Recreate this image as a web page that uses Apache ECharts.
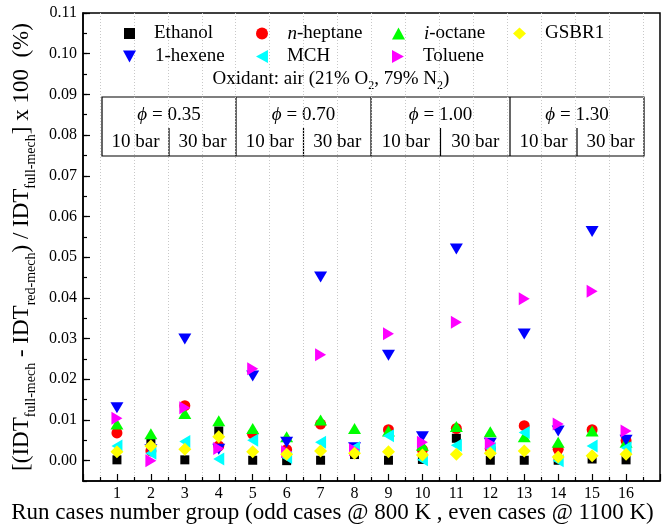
<!DOCTYPE html>
<html>
<head>
<meta charset="utf-8">
<script src="https://cdn.jsdelivr.net/npm/echarts@6/dist/echarts.min.js"></script>
<style>
  html, body { margin: 0; padding: 0; background: #fff; }
  #chart { width: 663px; height: 527px; }
</style>
</head>
<body>
<div id="chart"></div>
<script>
// Run case groups (odd cases at 800 K, even cases at 1100 K)
const cases = [1, 2, 3, 4, 5, 6, 7, 8, 9, 10, 11, 12, 13, 14, 15, 16];

// Relative IDT deviation, reduced vs. full mechanism (%)
const ethanol  = [0.0002, 0.0042, 0.0002, 0.0073, 0.0001, 0.0000, 0.0001, 0.0015, 0.0001, 0.0003, 0.0055, 0.0001, 0.0001, 0.0001, 0.0004, 0.0002];
const nHeptane = [0.0068, 0.0024, 0.0135, 0.0036, 0.0065, 0.0027, 0.0090, 0.0030, 0.0076, 0.0027, 0.0079, 0.0030, 0.0086, 0.0028, 0.0076, 0.0049];
const iOctane  = [0.0090, 0.0066, 0.0116, 0.0098, 0.0079, 0.0059, 0.0100, 0.0079, 0.0073, 0.0038, 0.0084, 0.0071, 0.0059, 0.0045, 0.0073, 0.0045];
const gsbr1    = [0.0022, 0.0036, 0.0028, 0.0059, 0.0022, 0.0016, 0.0024, 0.0018, 0.0022, 0.0014, 0.0016, 0.0018, 0.0024, 0.0009, 0.0012, 0.0016];
const hexene   = [0.0130, 0.0027, 0.0299, 0.0028, 0.0208, 0.0045, 0.0451, 0.0032, 0.0259, 0.0059, 0.0520, 0.0043, 0.0311, 0.0073, 0.0563, 0.0050];
const mch      = [0.0036, 0.0018, 0.0047, 0.0004, 0.0050, 0.0008, 0.0045, 0.0032, 0.0061, 0.0002, 0.0038, 0.0030, 0.0069, 0.0000, 0.0036, 0.0032];
const toluene  = [0.0104, 0.0000, 0.0130, 0.0030, 0.0226, 0.0022, 0.0260, 0.0027, 0.0312, 0.0045, 0.0340, 0.0043, 0.0398, 0.0090, 0.0416, 0.0073];

// Axis tick values
const yMajorTicks = [0.00, 0.01, 0.02, 0.03, 0.04, 0.05, 0.06, 0.07, 0.08, 0.09, 0.10, 0.11];
const phiLabels = ['0.35', '0.70', '1.00', '1.30'];
const pressureLabels = ['10 bar', '30 bar'];

const SERIF = 'Liberation Serif';

// triangle icons for the legend, pointing down / left / right
const ICON_DOWN = 'path://M0,0 L12,0 L6,11 Z';
const ICON_LEFT = 'path://M11,0 L11,12 L0,6 Z';
const ICON_RIGHT = 'path://M0,0 L11,6 L0,12 Z';

function pairs(vals) {
  return cases.map((c, i) => [c, vals[i]]);
}

function scatter(name, vals, color, symbol, size, rotate) {
  return {
    name: name,
    type: 'scatter',
    data: pairs(vals),
    symbol: symbol,
    symbolSize: size,
    symbolRotate: rotate || 0,
    itemStyle: { color: color, opacity: 1 },
    emphasis: { disabled: true },
    xAxisIndex: 0,
    yAxisIndex: 0
  };
}

// draw order: yellow diamonds end up on top
const series = [
  scatter('Ethanol', ethanol, '#000000', 'rect', [9, 9]),
  scatter('n-heptane', nHeptane, '#ff0000', 'circle', 11),
  scatter('i-octane', iOctane, '#00ff00', 'triangle', [13, 11]),
  scatter('1-hexene', hexene, '#0000ff', 'triangle', [13, 11], 180),
  scatter('MCH', mch, '#00ffff', 'triangle', [13, 11], 90),
  scatter('Toluene', toluene, '#ff00ff', 'triangle', [13, 11], -90),
  scatter('GSBR1', gsbr1, '#ffff00', 'diamond', [13, 13])
];

function legendAt(name, left, top, label, icon, w, h) {
  const item = { name: name };
  if (icon) item.icon = icon;
  return {
    data: [item],
    left: left,
    top: top,
    orient: 'horizontal',
    itemWidth: w || 13,
    itemHeight: h || 12,
    selectedMode: false,
    formatter: () => label,
    textStyle: {
      fontFamily: SERIF,
      fontSize: 19,
      color: '#000',
      padding: [0, 0, 0, 14],
      rich: {
        it: { fontFamily: SERIF, fontSize: 19, fontStyle: 'italic', color: '#000' },
        n: { fontFamily: SERIF, fontSize: 19, color: '#000' }
      }
    }
  };
}

const legendRowA = 19;
const legendRowB = 42;
const legends = [
  legendAt('Ethanol', 119, legendRowA, 'Ethanol', null, 11, 11),
  legendAt('n-heptane', 251, legendRowA, '{it|n}{n|-heptane}'),
  legendAt('i-octane', 387, legendRowA, '{it|i}{n|-octane}'),
  legendAt('GSBR1', 508, legendRowA, 'GSBR1'),
  legendAt('1-hexene', 118, legendRowB, '1-hexene', ICON_DOWN, 13, 12),
  legendAt('MCH', 251, legendRowB, 'MCH', ICON_LEFT, 12, 13),
  legendAt('Toluene', 387, legendRowB, 'Toluene', ICON_RIGHT, 12, 13)
];

// condition table above the data
const tbl = { left: 102, right: 644, top: 97, bottom: 156, midY: 128 };
const groupEdges = [102, 236, 371, 510, 644];
const tableGraphics = [];
const lineStyle = { stroke: '#000', lineWidth: 1.2 };
tableGraphics.push({
  type: 'rect', silent: true,
  shape: { x: tbl.left, y: tbl.top, width: tbl.right - tbl.left, height: tbl.bottom - tbl.top },
  style: { fill: null, stroke: '#000', lineWidth: 1.2 }
});
for (let g = 0; g < 4; g++) {
  const a = groupEdges[g], b = groupEdges[g + 1], mid = (a + b) / 2;
  if (g > 0) {
    tableGraphics.push({ type: 'line', silent: true, shape: { x1: a, y1: tbl.top, x2: a, y2: tbl.bottom }, style: lineStyle });
  }
  tableGraphics.push({ type: 'line', silent: true, shape: { x1: mid, y1: tbl.midY, x2: mid, y2: tbl.bottom }, style: lineStyle });
  tableGraphics.push({
    type: 'text', silent: true, x: mid, y: 115,
    style: {
      text: '{p|ϕ}{t| = ' + phiLabels[g] + '}',
      align: 'center', verticalAlign: 'middle',
      rich: {
        p: { fontFamily: SERIF, fontSize: 19, fontStyle: 'italic', fill: '#000' },
        t: { fontFamily: SERIF, fontSize: 19, fill: '#000' }
      }
    }
  });
  [(a + mid) / 2, (mid + b) / 2].forEach((cx, k) => {
    tableGraphics.push({
      type: 'text', silent: true, x: cx, y: 142,
      style: {
        text: pressureLabels[k], align: 'center', verticalAlign: 'middle',
        fontFamily: SERIF, fontSize: 19, fill: '#000'
      }
    });
  });
}
tableGraphics.push({
  type: 'text', silent: true, x: 331, y: 79,
  style: {
    text: '{n|Oxidant: air (21% O}{s|2}{n|, 79% N}{s|2}{n|)}',
    align: 'center', verticalAlign: 'middle',
    rich: {
      n: { fontFamily: SERIF, fontSize: 19, fill: '#000', lineHeight: 26, verticalAlign: 'middle' },
      s: { fontFamily: SERIF, fontSize: 12, fill: '#000', lineHeight: 26, verticalAlign: 'bottom' }
    }
  }
});

const chart = echarts.init(document.getElementById('chart'), null, { renderer: 'canvas' });
chart.setOption({
  animation: false,
  backgroundColor: '#fff',
  grid: {
    left: 83, right: 3, top: 13, bottom: 46,
    outerBoundsMode: 'none',
    containLabel: false,
    show: true, borderColor: '#000', borderWidth: 1.5, backgroundColor: 'transparent'
  },
  xAxis: {
    type: 'value', min: 0, max: 17, interval: 1,
    axisLine: { show: true, onZero: false, lineStyle: { color: '#000', width: 1.5 } },
    axisTick: { show: true, inside: true, length: 7, lineStyle: { color: '#000', width: 1.2 } },
    minorTick: { show: true, splitNumber: 2, length: 4, lineStyle: { color: '#000', width: 1.2 } },
    minorSplitLine: { show: true, lineStyle: { color: '#c8c8c8', type: [1, 2], width: 1 } },
    splitLine: { show: false },
    axisLabel: {
      color: '#000', fontFamily: SERIF, fontSize: 16, margin: 5,
      formatter: v => (v >= 1 && v <= 16) ? String(v) : ''
    },
    name: 'Run cases number group (odd cases @ 800 K , even cases @ 1100 K)',
    nameLocation: 'middle', nameGap: 20, nameMoveOverlap: false,
    nameTextStyle: { color: '#000', fontFamily: SERIF, fontSize: 23, padding: [0, 78, 0, 0] }
  },
  yAxis: [
    {
      type: 'value', min: -0.005, max: 0.11, position: 'left',
      axisLine: { show: true, onZero: false, lineStyle: { color: '#000', width: 1.5 } },
      axisTick: { show: true, inside: true, length: 7, customValues: yMajorTicks, lineStyle: { color: '#000', width: 1.2 } },
      axisLabel: {
        color: '#000', fontFamily: SERIF, fontSize: 16, margin: 6,
        customValues: yMajorTicks, formatter: v => v.toFixed(2)
      },
      splitLine: { show: false },
      name: '[(IDT{s|full-mech} - IDT{s|red-mech}) / IDT{s|full-mech}] x 100  (%)',
      nameLocation: 'middle', nameRotate: 90, nameGap: 46,
      nameTextStyle: {
        color: '#000', fontFamily: SERIF, fontSize: 23, lineHeight: 32, verticalAlign: 'middle',
        rich: {
          s: { color: '#000', fontFamily: SERIF, fontSize: 14, lineHeight: 32, verticalAlign: 'bottom' }
        }
      }
    },
    {
      // short minor ticks every 0.005
      type: 'value', min: -0.005, max: 0.11, interval: 0.005, position: 'left',
      axisLine: { show: false },
      axisTick: { show: true, inside: true, length: 4, lineStyle: { color: '#000', width: 1.2 } },
      axisLabel: { show: false },
      splitLine: { show: false }
    }
  ],
  legend: legends,
  graphic: tableGraphics,
  series: series
});
</script>
</body>
</html>
